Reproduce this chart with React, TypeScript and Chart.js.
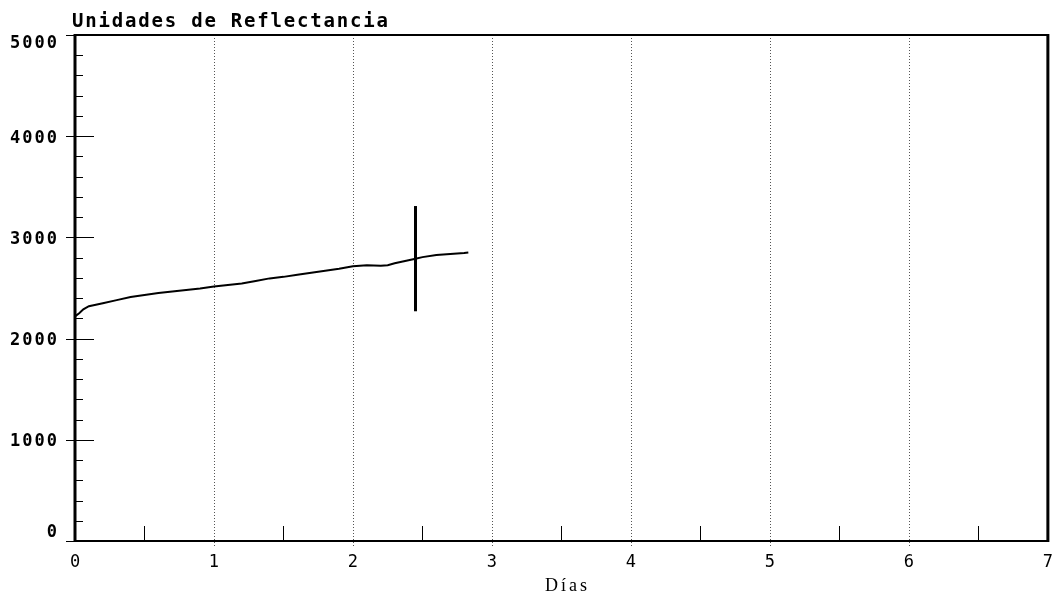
import React, { useEffect, useRef } from "react";
import { Chart, registerables } from "chart.js";

Chart.register(...registerables);

// ---- data ----
const dayValues = [
  0, 0.03, 0.06, 0.1, 0.15, 0.2, 0.3, 0.4, 0.5, 0.6, 0.7, 0.8, 0.9, 1.0,
  1.1, 1.2, 1.3, 1.4, 1.5, 1.6, 1.7, 1.8, 1.9, 2.0, 2.1, 2.2, 2.25, 2.3,
  2.4, 2.45, 2.5, 2.6, 2.7, 2.8, 2.83,
];
const reflectance = [
  2220, 2250, 2290, 2320, 2335, 2350, 2380, 2410, 2430, 2450, 2465, 2480,
  2495, 2515, 2530, 2545, 2570, 2595, 2610, 2630, 2650, 2670, 2690, 2715,
  2725, 2720, 2725, 2745, 2775, 2790, 2805, 2825, 2835, 2845, 2850,
];
const markerDays = [2.45, 2.45];
const markerValues = [2270, 3310];

const xTicks = [0, 1, 2, 3, 4, 5, 6, 7];
const xGridTicks = [1, 2, 3, 4, 5, 6];
const xMinorTicks = [0.5, 1.5, 2.5, 3.5, 4.5, 5.5, 6.5];
const yMajorTicks = [0, 1000, 2000, 3000, 4000, 5000];
const yMinorTicks = [
  200, 400, 600, 800, 1200, 1400, 1600, 1800, 2200, 2400, 2600, 2800,
  3200, 3400, 3600, 3800, 4200, 4400, 4600, 4800,
];
const titleText = "Unidades de Reflectancia";
const xAxisTitle = "Días";

const gridPlugin = {
  id: "gridPlugin",
  beforeDatasetsDraw(chart: any) {
    const { ctx, chartArea: a, scales } = chart;
    const xs = scales.x;
    ctx.save();
    ctx.strokeStyle = "#555";
    ctx.lineWidth = 1;
    ctx.setLineDash([1, 2]);
    for (const v of xGridTicks) {
      const px = Math.round(xs.getPixelForValue(v)) + 0.5;
      ctx.beginPath();
      ctx.moveTo(px, a.top);
      ctx.lineTo(px, a.bottom + 6);
      ctx.stroke();
    }
    ctx.restore();
  },
};

const framePlugin = {
  id: "framePlugin",
  afterDraw(chart: any) {
    const { ctx, chartArea: a, scales } = chart;
    const xs = scales.x;
    const ys = scales.y;
    ctx.save();
    ctx.strokeStyle = "#000";
    ctx.fillStyle = "#000";

    // y ticks
    ctx.lineWidth = 1;
    for (const v of yMinorTicks) {
      const py = Math.round(ys.getPixelForValue(v)) + 0.5;
      ctx.beginPath();
      ctx.moveTo(a.left, py);
      ctx.lineTo(a.left + 8, py);
      ctx.stroke();
    }
    for (const v of yMajorTicks) {
      const py = Math.round(ys.getPixelForValue(v)) + 0.5;
      ctx.beginPath();
      ctx.moveTo(a.left - 9, py);
      ctx.lineTo(a.left + 19, py);
      ctx.stroke();
    }
    // x minor ticks
    for (const v of xMinorTicks) {
      const px = Math.round(xs.getPixelForValue(v)) + 0.5;
      ctx.beginPath();
      ctx.moveTo(px, a.bottom);
      ctx.lineTo(px, a.bottom - 15);
      ctx.stroke();
    }

    // frame
    ctx.lineWidth = 3;
    ctx.beginPath();
    ctx.moveTo(a.left, a.top - 1);
    ctx.lineTo(a.left, a.bottom + 1);
    ctx.moveTo(a.right, a.top - 1);
    ctx.lineTo(a.right, a.bottom + 1);
    ctx.stroke();
    ctx.lineWidth = 2;
    ctx.beginPath();
    ctx.moveTo(a.left, a.top);
    ctx.lineTo(a.right, a.top);
    ctx.moveTo(a.left, a.bottom);
    ctx.lineTo(a.right, a.bottom);
    ctx.stroke();

    // y labels
    ctx.font = 'bold 17px "DejaVu Sans Mono"';
    (ctx as any).letterSpacing = "2px";
    ctx.textAlign = "right";
    ctx.textBaseline = "middle";
    for (const v of yMajorTicks) {
      let py = ys.getPixelForValue(v) + 2;
      py = Math.min(Math.max(py, a.top + 9), a.bottom - 8);
      ctx.fillText(String(v), a.left - 16, py);
    }

    // title
    ctx.font = 'bold 19px "DejaVu Sans Mono"';
    (ctx as any).letterSpacing = "1.8px";
    ctx.textAlign = "left";
    ctx.textBaseline = "alphabetic";
    ctx.fillText(titleText, a.left - 3, 27);

    // x axis title
    ctx.font = '18px "Liberation Serif"';
    (ctx as any).letterSpacing = "3px";
    ctx.textAlign = "center";
    ctx.fillText(xAxisTitle, (a.left + a.right) / 2 + 6, 591);
    ctx.restore();
  },
};

export default function App() {
  const ref = useRef<HTMLCanvasElement | null>(null);
  useEffect(() => {
    if (!ref.current) return;
    const chart = new Chart(ref.current, {
      type: "scatter",
      data: {
        datasets: [
          {
            data: dayValues.map((d, i) => ({ x: d, y: reflectance[i] })),
            showLine: true,
            borderColor: "#000",
            borderWidth: 2,
            pointRadius: 0,
            tension: 0,
          },
          {
            data: markerDays.map((d, i) => ({ x: d, y: markerValues[i] })),
            showLine: true,
            borderColor: "#000",
            borderWidth: 3,
            pointRadius: 0,
          },
        ],
      },
      options: {
        animation: false,
        responsive: false,
        devicePixelRatio: 1,
        layout: { padding: { top: 35, right: 10, left: 0, bottom: 0 } },
        plugins: {
          legend: { display: false },
          tooltip: { enabled: false },
          title: { display: false },
        },
        scales: {
          x: {
            type: "linear",
            min: 0,
            max: 7,
            afterFit: (s: any) => {
              s.height = 55;
            },
            afterBuildTicks: (s: any) => {
              s.ticks = xTicks.map((v) => ({ value: v }));
            },
            border: { display: false },
            grid: {
              color: "rgba(0,0,0,0)",
              drawOnChartArea: false,
              tickLength: 6,
            },
            ticks: {
              color: "#000",
              font: { family: "DejaVu Sans Mono", size: 17 },
              padding: 5,
              maxRotation: 0,
              autoSkip: false,
            },
          },
          y: {
            type: "linear",
            min: 0,
            max: 5000,
            afterFit: (s: any) => {
              s.width = 75;
            },
            border: { display: false },
            grid: { display: false },
            ticks: { display: false },
          },
        },
      },
      plugins: [gridPlugin, framePlugin],
    } as any);
    return () => chart.destroy();
  }, []);
  return (
    <div
      style={{
        position: "absolute",
        left: 0,
        top: 0,
        width: 1058,
        height: 596,
        background: "#fff",
      }}
    >
      <canvas ref={ref} width={1058} height={596} />
    </div>
  );
}
